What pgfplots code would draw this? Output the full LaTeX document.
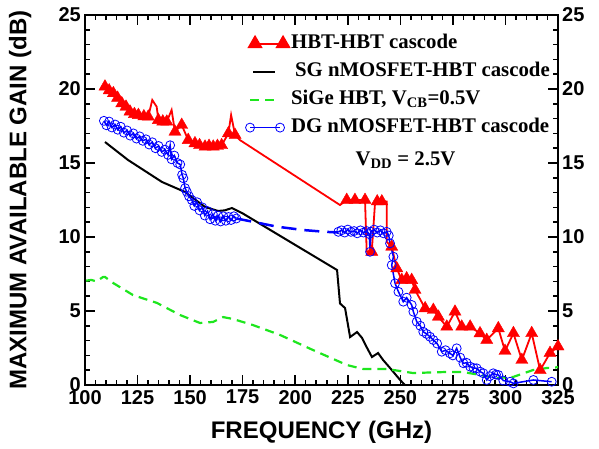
\documentclass[border=0pt]{standalone}
\usepackage{fontspec}
\setmainfont{Liberation Serif}
\newfontfamily\arialfont{Liberation Sans}
\usepackage{pgfplots}
\pgfplotsset{compat=1.18}
\usepackage{pgfplotstable}
\definecolor{mygreen}{RGB}{30,230,30}
\definecolor{myblue}{RGB}{0,0,255}

\pgfplotstableread{
f g mk
109.5 20.16 1
111.5 19.9 1
113.5 19.71 1
115.5 19.4 1
117.5 19.03 1
119.5 18.8 1
121.4 18.47 1
123.5 18.3 1
125.4 18.24 1
128.0 18.15 1
130.1 18.13 1
132.0 19.26 0
134.1 18.8 0
134.9 17.9 1
137.0 17.8 1
138.9 17.79 1
141.2 18.58 0
142.8 17.11 1
146.0 17.57 1
149.1 16.55 1
152.3 16.33 1
154.5 16.2 1
157.1 16.1 1
159.0 16.15 1
161.0 16.1 1
163.0 16.15 1
165.0 16.2 1
168.2 17.0 1
169.5 18.24 0
171.4 16.89 1
173.7 16.55 0
221.3 12.16 0
224.5 12.5 1
228.4 12.5 1
233.2 12.5 1
234.0 9.0 0
236.4 9.0 1
238.0 12.39 0
239.0 12.4 1
241.2 12.4 1
243.5 12.39 0
243.5 9.68 0
245.9 9.34 1
248.3 7.88 1
250.7 7.09 1
253.0 7.2 1
255.4 7.09 1
257.0 6.42 1
261.8 5.18 1
265.7 5.07 1
268.1 4.61 1
272.1 3.94 1
276.0 4.95 1
279.2 3.94 1
283.2 3.94 1
287.9 3.49 1
291.1 3.04 1
296.6 3.83 1
299.8 2.3 1
303.8 3.5 1
307.8 1.69 1
312.5 3.5 1
316.5 1.0 1
321.2 2.16 1
325.0 2.6 1
}\redtab

\pgfplotstableread{
f g
109.5 16.42
120.5 15.2
136.6 13.72
147.6 13.04
157.1 12.03
163.3 11.76
166.5 11.8
169.9 11.96
174.7 11.62
219.9 7.77
221.3 5.51
223.7 5.2
226.1 3.24
229.4 3.58
231.8 3.18
234.2 2.5
236.5 1.89
239.4 2.16
241.8 1.69
245.1 1.15
249.9 0.34
252.2 0.0
}\blacktab

\pgfplotstableread{
f g
100.5 7.05
103.0 7.1
105.5 7.0
108.6 7.3
109.5 7.3
113.3 6.9
122.8 6.08
134.3 5.54
145.2 4.73
154.7 4.19
160.9 4.26
165.7 4.59
170.4 4.46
179.9 4.05
192.8 3.38
208.5 2.36
224.6 1.35
232.3 1.08
243.7 1.08
256.0 0.81
272.2 0.88
279.8 0.88
296.0 0.47
303.6 0.54
313.1 1.01
319.8 1.15
325.0 1.2
}\greentab

\pgfplotstableread{
f g
109.0 17.85
110.2 17.55
111.5 17.8
112.8 17.4
114.3 17.6
115.6 17.25
117.0 17.45
118.5 17.05
120.0 17.2
121.5 16.85
123.0 17.0
124.5 16.65
126.0 16.8
127.5 16.5
129.0 16.6
130.5 16.25
132.0 16.4
133.5 16.0
135.0 16.15
136.5 15.75
138.0 15.9
139.5 15.55
140.5 16.2
141.2 15.25
142.5 15.5
144.0 15.0
145.3 14.9
146.2 14.2
146.8 13.97
147.6 13.3
148.4 13.06
149.5 12.75
150.8 12.5
152.0 12.1
153.3 12.35
154.5 11.8
155.8 12.0
157.0 11.45
158.3 11.75
159.5 11.2
160.8 11.55
162.0 11.1
163.3 11.45
164.5 11.05
165.8 11.4
167.0 11.1
168.3 11.35
169.5 11.15
170.8 11.4
172.0 11.25
}\blueA

\pgfplotstableread{
f g
172.0 11.25
179.9 11.03
191.2 10.7
203.9 10.47
213.4 10.36
220.5 10.3
}\blueB

\pgfplotstableread{
f g
220.5 10.35
222.0 10.45
223.5 10.3
225.0 10.5
226.5 10.35
228.0 10.4
229.5 10.25
231.0 10.45
232.5 10.3
234.0 10.4
235.2 10.2
235.6 9.0
236.0 10.35
237.5 10.5
239.0 10.3
240.5 10.45
242.0 10.25
243.5 10.35
244.5 10.1
245.1 9.57
246.7 8.67
245.9 8.1
247.5 6.87
249.1 6.3
251.4 5.63
253.0 5.9
255.4 5.41
256.2 4.95
257.8 4.28
259.5 4.0
260.9 3.6
262.5 3.45
264.1 3.26
265.7 3.04
267.5 2.8
269.7 2.25
271.5 2.35
273.6 2.14
275.0 2.0
276.8 2.48
278.5 1.85
280.0 1.47
281.5 1.5
283.2 1.24
284.8 1.15
286.3 1.13
288.0 0.9
289.5 0.79
291.1 0.34
292.5 0.6
294.2 0.79
295.5 0.7
296.6 0.68
299.0 0.3
302.2 0.22
303.8 0.11
313.3 0.34
322.0 0.22
}\blueC

\begin{document}
\begin{tikzpicture}
\path[use as bounding box] (-85pt,-63pt) rectangle (514pt,385pt);
\begin{axis}[
  width=473pt, height=370pt, scale only axis,
  xmin=100, xmax=325, ymin=0, ymax=25,
  xtick={100,125,...,325}, ytick={0,5,...,25},
  minor x tick num=4, minor y tick num=4,
  tick align=inside, tick pos=both,
  major tick length=10pt, minor tick length=5pt,
  tick style={black, line width=1.5pt},
  axis line style={line width=2.5pt},
  /pgf/number format/assume math mode=true,
  ticklabel style={font=\arialfont\bfseries\fontsize{20}{20}\selectfont},
  xticklabel style={inner sep=5pt},
  yticklabel style={inner sep=4pt},
  xlabel={FREQUENCY (GHz)},
  ylabel={MAXIMUM AVAILABLE GAIN (dB)},
  label style={font=\arialfont\bfseries\fontsize{24}{24}\selectfont},
  xlabel style={at={(axis description cs:0.5,-0.127)}, anchor=center},
  ylabel style={at={(axis description cs:-0.137,0.5)}, anchor=center},
  legend cell align=left,
  legend style={at={(0.339,0.957)}, anchor=north west, draw=none, fill=none,
    inner sep=0pt, column sep=0pt, row sep=3pt,
    font=\bfseries\fontsize{20.8}{22}\selectfont,
    nodes={inner sep=2pt, text height=15pt, text depth=6pt}},
]
% HBT-HBT cascode
\addplot[red, line width=1.8pt,
  legend image code/.code={
    \draw[red, line width=1.8pt] (8pt,0pt) -- (36pt,0pt);
    \draw[red, only marks, mark=triangle*, mark size=7pt] plot coordinates {(8pt,0pt) (36pt,0pt)};}]
  table[x=f,y=g] {\redtab};
\addlegendentry{HBT-HBT cascode}
\addplot[red, only marks, mark=triangle*, mark size=7pt, forget plot,
  restrict expr to domain={\thisrow{mk}}{0.5:1.5}]
  table[x=f,y=g] {\redtab};
% SG nMOSFET
\addplot[black, line width=2pt,
  legend image code/.code={\draw[black, line width=2pt] (6pt,0pt) -- (28pt,0pt);}]
  table[x=f,y=g] {\blacktab};
\addlegendentry{\hspace{4pt}SG nMOSFET-HBT cascode}
% SiGe HBT
\addplot[mygreen, line width=2.2pt, dash pattern=on 9pt off 6pt,
  legend image code/.code={\draw[mygreen, line width=2.2pt, dash pattern=on 9pt off 6pt] (3pt,0pt) -- (31pt,0pt);}]
  table[x=f,y=g] {\greentab};
\addlegendentry{SiGe HBT, V\textsubscript{CB}=0.5V}
% DG nMOSFET
\addplot[myblue, line width=1.5pt, mark=o, mark size=4.5pt, mark options={line width=0.8pt},
  legend image code/.code={\draw[myblue, line width=1.5pt, mark=o, mark size=4.5pt, mark options={line width=0.8pt}] plot coordinates {(3pt,0pt) (33pt,0pt)};}]
  table[x=f,y=g] {\blueA};
\addlegendentry{DG nMOSFET-HBT cascode}
\addplot[myblue, line width=2.5pt, dash pattern=on 15pt off 8pt, forget plot]
  table[x=f,y=g] {\blueB};
\addplot[myblue, line width=1.5pt, mark=o, mark size=4.5pt, mark options={line width=0.8pt}, forget plot]
  table[x=f,y=g] {\blueC};
\node[font=\bfseries\fontsize{20.8}{22}\selectfont, anchor=base] at (axis cs:252.5,14.86) {V\textsubscript{DD} = 2.5V};
\end{axis}
\begin{axis}[
  width=473pt, height=370pt, scale only axis,
  xmin=100, xmax=325, ymin=0, ymax=25,
  xtick=\empty, ytick={0,5,...,25},
  yticklabel pos=right,
  axis line style={draw=none},
  ytick style={draw=none},
  /pgf/number format/assume math mode=true,
  ticklabel style={font=\arialfont\bfseries\fontsize{20}{20}\selectfont},
  yticklabel style={inner sep=4pt},
]
\end{axis}
\end{tikzpicture}
\end{document}
